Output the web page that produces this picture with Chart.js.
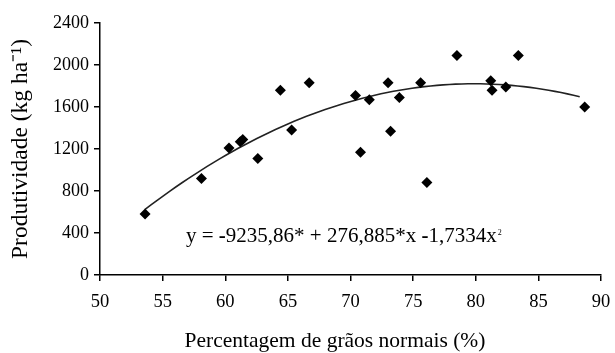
<!DOCTYPE html>
<html>
<head>
<meta charset="utf-8">
<script src="https://cdn.jsdelivr.net/npm/chart.js@4.4.1/dist/chart.umd.min.js"></script>
<style>
html,body{margin:0;padding:0;background:#fff;}
#wrap{width:615px;height:353px;}
</style>
</head>
<body>
<div id="wrap"><canvas id="c" width="615" height="353"></canvas></div>
<script>
// Observed data (percentage of normal grains, yield kg/ha)
const grainPct = [53.6, 58.1, 60.3, 61.2, 61.4, 62.6, 64.4, 65.3, 66.7, 70.4, 70.8, 71.5, 73.0, 73.2, 73.9, 75.6, 76.1, 78.5, 81.2, 81.3, 82.4, 83.4, 88.7];
const yieldKg  = [580, 920, 1210, 1270, 1290, 1110, 1760, 1380, 1830, 1710, 1170, 1670, 1830, 1370, 1690, 1830, 880, 2090, 1850, 1760, 1790, 2090, 1600];
// Regression coefficients printed on the chart: y = b0 + b1*x + b2*x^2
const coef = [-9235.86, 276.885, -1.7334];
const curveRange = [53.6, 88.3];
const xTicks = [50, 55, 60, 65, 70, 75, 80, 85, 90];
const yTicks = [0, 400, 800, 1200, 1600, 2000, 2400];
const xTitle = 'Percentagem de grãos normais (%)';
const yTitle = 'Produtividade (kg ha⁻¹)';
// equation pieces: [text, bold]
const equationParts = [["y = ", false], ["-", true], ["9235,86* + 276,885*x ", false], ["-", true], ["1,7334x", false]];
const equationSup = "2";

const points = grainPct.map((x, i) => ({x: x, y: yieldKg[i]}));
const curve = [];
for (let k = 0; k <= 70; k++) {
  const x = curveRange[0] + (curveRange[1] - curveRange[0]) * k / 70;
  curve.push({x: x, y: coef[0] + coef[1] * x + coef[2] * x * x});
}

const FONT = "'Liberation Serif', 'Times New Roman', serif";

const textPlugin = {
  id: 'texts',
  afterDraw(chart) {
    const ctx = chart.ctx;
    const a = chart.chartArea;
    ctx.save();
    ctx.fillStyle = '#000';
    ctx.textBaseline = 'alphabetic';
    ctx.textAlign = 'left';
    // equation
    let x = a.left + 86;
    const y0 = a.top + 219;
    for (const [t, b] of equationParts) {
      ctx.font = (b ? "bold " : "") + "21px " + FONT;
      ctx.fillText(t, x, y0);
      x += ctx.measureText(t).width;
    }
    ctx.font = "8px " + FONT;
    ctx.fillText(equationSup, x + 1, y0 - 7);
    // x axis title
    ctx.font = "21.5px " + FONT;
    ctx.textAlign = 'center';
    ctx.fillText(xTitle, 335, 347);
    ctx.restore();
  }
};

new Chart(document.getElementById('c'), {
  type: 'scatter',
  data: {
    datasets: [
      {
        label: 'obs',
        data: points,
        pointStyle: 'rectRot',
        pointRadius: 5.5,
        pointHoverRadius: 5.5,
        backgroundColor: '#000',
        borderColor: '#000',
        borderWidth: 0,
        showLine: false,
        order: 1
      },
      {
        label: 'fit',
        data: curve,
        showLine: true,
        pointRadius: 0,
        borderColor: '#222',
        borderWidth: 1.6,
        tension: 0,
        fill: false,
        order: 2
      }
    ]
  },
  options: {
    responsive: false,
    animation: false,
    devicePixelRatio: 1,
    layout: {padding: {left: 0, right: 14, top: 23, bottom: 0}},
    plugins: {legend: {display: false}, tooltip: {enabled: false}},
    scales: {
      x: {
        type: 'linear',
        min: 50, max: 90,
        afterBuildTicks(s) { s.ticks = xTicks.map(v => ({value: v})); },
        afterFit(s) { s.height = 78; s.paddingLeft = 0; s.paddingRight = 0; },
        border: {display: true, color: '#000', width: 1.5},
        grid: {drawOnChartArea: false, drawTicks: true, tickLength: 6, color: '#000', lineWidth: 1.5},
        ticks: {color: '#000', font: {family: FONT, size: 18.5}, padding: 10, maxRotation: 0, callback: v => String(v)},
        title: {display: false}
      },
      y: {
        type: 'linear',
        min: 0, max: 2400,
        afterBuildTicks(s) { s.ticks = yTicks.map(v => ({value: v})); },
        afterFit(s) { s.width = 100; s.paddingTop = 0; s.paddingBottom = 0; },
        border: {display: true, color: '#000', width: 1.5},
        grid: {drawOnChartArea: false, drawTicks: true, tickLength: 6, color: '#000', lineWidth: 1.5},
        ticks: {color: '#000', font: {family: FONT, size: 18}, padding: 5, callback: v => String(v)},
        title: {display: true, text: yTitle, color: '#000', font: {family: FONT, size: 23.5}, padding: {top: 7, bottom: 0}}
      }
    }
  },
  plugins: [textPlugin]
});
</script>
</body>
</html>
